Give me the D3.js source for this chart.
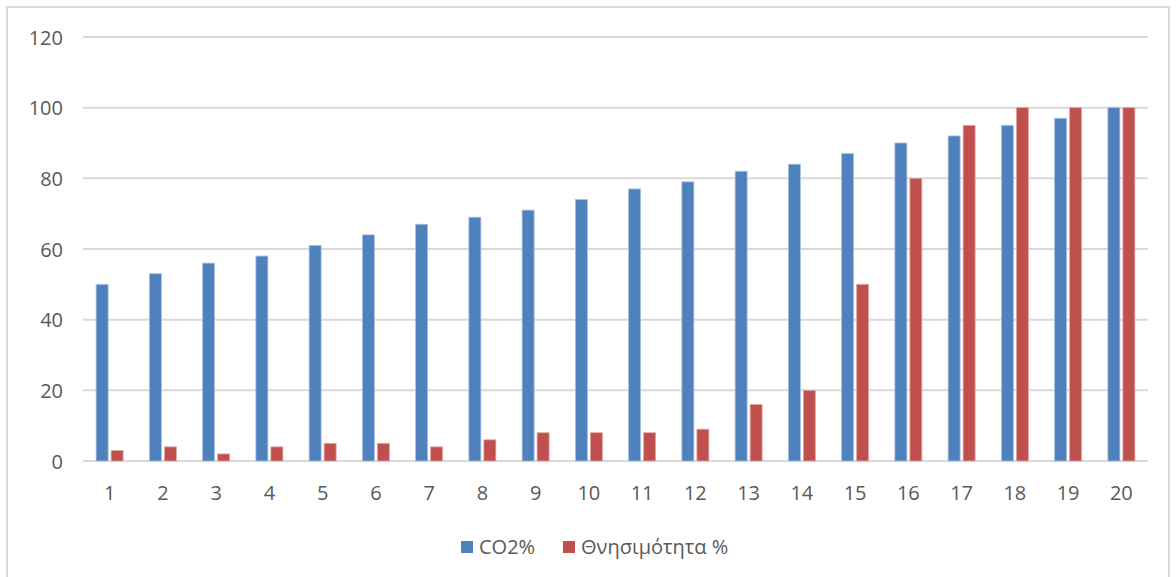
<!DOCTYPE html>
<html>
<head>
<meta charset="utf-8">
<script src="https://cdn.jsdelivr.net/npm/d3@7"></script>
<style>
  html, body { margin: 0; padding: 0; background: #fff; }
  svg { display: block; }
  text { font-family: "Open Sans", "Noto Sans", sans-serif; fill: #595959; }
</style>
</head>
<body>
<svg id="chart" width="1176" height="577"></svg>
<script>
// Categories (sample index) and the two series
const categories = ["1","2","3","4","5","6","7","8","9","10","11","12","13","14","15","16","17","18","19","20"];
const co2Values = [50, 53, 56, 58, 61, 64, 67, 69, 71, 74, 77, 79, 82, 84, 87, 90, 92, 95, 97, 100];
const mortalityValues = [3, 4, 2, 4, 5, 5, 4, 6, 8, 8, 8, 9, 16, 20, 50, 80, 95, 100, 100, 100];
const seriesNames = ["CO2%", "Θνησιμότητα %"];
const seriesColors = ["#4f81bd", "#c0504d"];
const yTicks = [0, 20, 40, 60, 80, 100, 120];

const svg = d3.select("#chart");
const W = 1176, H = 577;
const FONT = '"Open Sans", "Noto Sans", sans-serif';

// outer chart border (open at the bottom edge of the canvas)
svg.append("rect")
  .attr("x", 7).attr("y", 7)
  .attr("width", W - 14).attr("height", H)
  .attr("fill", "#fff").attr("stroke", "#d9d9d9").attr("stroke-width", 2);

const plot = { left: 83, right: 1148, top: 37, bottom: 461 };

const x = d3.scaleBand().domain(categories).range([plot.left, plot.right]).padding(0);
const y = d3.scaleLinear().domain([0, 120]).range([plot.bottom, plot.top]);

// horizontal gridlines
svg.append("g").selectAll("line").data(yTicks).join("line")
  .attr("x1", plot.left).attr("x2", plot.right)
  .attr("y1", d => y(d)).attr("y2", d => y(d))
  .attr("stroke", "#d9d9d9").attr("stroke-width", 2);

// y axis labels
const yAxis = d3.axisLeft(y).tickValues(yTicks).tickSize(0).tickPadding(0);
const gy = svg.append("g").attr("transform", `translate(63,0)`).call(yAxis);
gy.select(".domain").remove();
gy.selectAll("text").attr("font-size", 20).attr("dy", "0.36em").style("fill", "#595959")
  .style("font-family", FONT);

// x axis labels
const xAxis = d3.axisBottom(x).tickSize(0).tickPadding(0);
const gx = svg.append("g").attr("transform", `translate(0,${plot.bottom})`).call(xAxis);
gx.select(".domain").remove();
gx.selectAll("text").attr("y", 39).attr("dy", 0).attr("font-size", 20).style("fill", "#595959")
  .style("font-family", FONT);

// grouped bars
const barW = 12, innerGap = 3;
const sub = d3.scaleBand().domain([0, 1]).range([0, barW * 2 + innerGap]).paddingInner(innerGap / (barW + innerGap));
const groupOffset = (x.bandwidth() - (barW * 2 + innerGap)) / 2;
const series = [co2Values, mortalityValues];

series.forEach((vals, si) => {
  svg.append("g").selectAll("rect").data(vals).join("rect")
    .attr("x", (d, i) => x(categories[i]) + groupOffset + sub(si))
    .attr("y", d => y(d))
    .attr("width", sub.bandwidth())
    .attr("height", d => y(0) - y(d))
    .attr("fill", seriesColors[si])
    .attr("stroke", si === 0 ? "#a9c1e0" : "#e0a8a6")
    .attr("stroke-width", 0.8);
});

// legend
const legend = svg.append("g").attr("transform", "translate(461,547)");
const legendX = [0, 102];
seriesNames.forEach((name, i) => {
  const g = legend.append("g").attr("transform", `translate(${legendX[i]},0)`);
  g.append("rect").attr("x", 0).attr("y", -6).attr("width", 12).attr("height", 12)
    .attr("fill", seriesColors[i]);
  g.append("text").attr("x", 18).attr("y", 0).attr("dy", "0.36em")
    .attr("font-size", 20).style("font-family", FONT).text(name);
});
</script>
</body>
</html>
